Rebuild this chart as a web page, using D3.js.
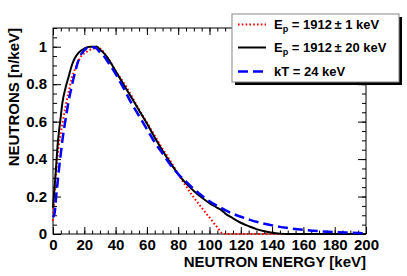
<!DOCTYPE html>
<html>
<head>
<meta charset="utf-8">
<script src="https://cdn.jsdelivr.net/npm/d3@7"></script>
<style>
  body { margin: 0; background: #fff; }
  svg { display: block; font-family: "Liberation Sans", Arial, sans-serif; font-weight: bold; }
</style>
</head>
<body>
<svg width="407" height="276"></svg>
<script>
const svg = d3.select("svg");

const energy = [0, 1, 2, 3, 4, 5, 6, 8, 10, 12, 14, 16, 18, 20, 22, 24, 26, 28, 30, 32, 35,
  40, 45, 50, 55, 60, 65, 70, 75, 80, 85, 90, 95, 100, 105, 108, 110, 115, 120, 125, 130,
  135, 140, 145, 150, 160, 170, 180, 190, 200];

// Ep = 1912 +- 1 keV
const narrow = [0.07, 0.22, 0.33, 0.42, 0.49, 0.54, 0.59, 0.68, 0.76, 0.83, 0.88, 0.92, 0.95,
  0.965, 0.975, 0.985, 0.99, 1.0, 0.99, 0.975, 0.94, 0.87, 0.81, 0.74, 0.665, 0.595, 0.525,
  0.455, 0.39, 0.32, 0.255, 0.195, 0.14, 0.088, 0.035, 0.005, 0, 0, 0, 0, 0,
  0, 0, 0, 0, 0, 0, 0, 0, 0];

// Ep = 1912 +- 20 keV
const wide = [0.14, 0.25, 0.36, 0.48, 0.56, 0.63, 0.7, 0.78, 0.84, 0.9, 0.94, 0.965, 0.98,
  0.99, 0.998, 1.0, 1.0, 1.0, 0.985, 0.97, 0.94, 0.87, 0.8, 0.73, 0.66, 0.59, 0.515,
  0.445, 0.38, 0.32, 0.27, 0.23, 0.195, 0.165, 0.14, 0.125, 0.11, 0.084, 0.06, 0.042, 0.026,
  0.015, 0.007, 0.002, 0, 0, 0, 0, 0, 0];

// kT = 24 keV
const maxw = [0.09, 0.11, 0.2, 0.28, 0.36, 0.43, 0.5, 0.61, 0.71, 0.79, 0.86, 0.92, 0.96,
  0.98, 0.996, 1.0, 0.997, 0.99, 0.97, 0.955, 0.92, 0.855, 0.78, 0.7, 0.63, 0.56, 0.49,
  0.43, 0.37, 0.32, 0.28, 0.24, 0.205, 0.175, 0.15, 0.137, 0.128, 0.108, 0.092, 0.078, 0.065,
  0.055, 0.046, 0.038, 0.032, 0.022, 0.015, 0.01, 0.007, 0.004];

const xMajor = [0, 20, 40, 60, 80, 100, 120, 140, 160, 180, 200];
const yMajor = [0, 0.2, 0.4, 0.6, 0.8, 1];
const yLabels = ["0", "0.2", "0.4", "0.6", "0.8", "1"];

const plot = { left: 53, right: 366, top: 28, bottom: 234 };

const x = d3.scaleLinear().domain([0, 200]).range([plot.left, plot.right]);
const y = d3.scaleLinear().domain([0, 1.1]).range([plot.bottom, plot.top]);

const xMinor = d3.range(0, 201, 5);
const yMinor = d3.range(0, 1.1001, 0.05);

// ticks, pointing inwards on all four sides
function tickAxis(axisFn, scale, values, size, translate) {
  svg.append("g")
    .attr("transform", translate)
    .call(axisFn(scale).tickValues(values).tickSize(size).tickFormat(""))
    .call(g => g.select(".domain").remove())
    .call(g => g.selectAll("line").attr("stroke", "#000"));
}
tickAxis(d3.axisBottom, x, xMinor, -3.5, `translate(0,${plot.bottom})`);
tickAxis(d3.axisBottom, x, xMajor, -7, `translate(0,${plot.bottom})`);
tickAxis(d3.axisTop, x, xMinor, -3.5, `translate(0,${plot.top})`);
tickAxis(d3.axisTop, x, xMajor, -7, `translate(0,${plot.top})`);
tickAxis(d3.axisLeft, y, yMinor, -4, `translate(${plot.left},0)`);
tickAxis(d3.axisLeft, y, yMajor, -8, `translate(${plot.left},0)`);
tickAxis(d3.axisRight, y, yMinor, -4, `translate(${plot.right},0)`);
tickAxis(d3.axisRight, y, yMajor, -8, `translate(${plot.right},0)`);

// tick labels
svg.append("g")
  .attr("transform", `translate(0,${plot.bottom})`)
  .call(d3.axisBottom(x).tickValues(xMajor).tickSize(0).tickPadding(5.2))
  .call(g => g.select(".domain").remove())
  .selectAll("text")
  .attr("fill", "#000")
  .style("font", "bold 15px 'Liberation Sans', Arial, sans-serif");

svg.append("g")
  .attr("transform", `translate(${plot.left},0)`)
  .call(d3.axisLeft(y).tickValues(yMajor).tickSize(0).tickPadding(6)
    .tickFormat((d, i) => yLabels[i]))
  .call(g => g.select(".domain").remove())
  .selectAll("text")
  .attr("fill", "#000")
  .style("font", "bold 15px 'Liberation Sans', Arial, sans-serif");

// frame
svg.append("rect")
  .attr("x", plot.left).attr("y", plot.top)
  .attr("width", plot.right - plot.left).attr("height", plot.bottom - plot.top)
  .attr("fill", "none").attr("stroke", "#000").attr("stroke-width", 1);

// curves
const line = vals => d3.line()
  .x((d, i) => x(energy[i]))
  .y(d => y(d))
  .curve(d3.curveMonotoneX)(vals);

svg.append("path").attr("d", line(narrow))
  .attr("fill", "none").attr("stroke", "#ff0000").attr("stroke-width", 2)
  .attr("stroke-dasharray", "1.6,2.2");
svg.append("path").attr("d", line(wide))
  .attr("fill", "none").attr("stroke", "#000").attr("stroke-width", 2);
svg.append("path").attr("d", line(maxw))
  .attr("fill", "none").attr("stroke", "#0000ff").attr("stroke-width", 2.5)
  .attr("stroke-dasharray", "10,5");

// axis titles
svg.append("text")
  .attr("x", plot.right).attr("y", 267)
  .attr("text-anchor", "end")
  .style("font-size", "15px")
  .text("NEUTRON ENERGY [keV]");

svg.append("text")
  .attr("transform", `translate(19,${plot.top}) rotate(-90)`)
  .attr("text-anchor", "end")
  .style("font-size", "15px")
  .text("NEUTRONS [n/keV]");

// legend
const leg = { x: 232, y: 14, w: 167, h: 68 };
svg.append("rect")
  .attr("x", leg.x + 3).attr("y", leg.y + 3).attr("width", leg.w).attr("height", leg.h)
  .attr("fill", "#000");
svg.append("rect")
  .attr("x", leg.x).attr("y", leg.y).attr("width", leg.w).attr("height", leg.h)
  .attr("fill", "#fff").attr("stroke", "#888").attr("stroke-width", 1);

const legendItems = [
  { color: "#ff0000", dash: "1.6,2.2", width: 2, yPos: 24.5, main: "E", sub: "p", rest: " = 1912\u2009\u00b1 1 keV" },
  { color: "#000", dash: null, width: 2, yPos: 47.5, main: "E", sub: "p", rest: " = 1912\u2009\u00b1 20 keV" },
  { color: "#0000ff", dash: "10,5", width: 2.5, yPos: 71.5, main: "kT = 24 keV", sub: null, rest: "" }
];

legendItems.forEach(it => {
  svg.append("line")
    .attr("x1", 238).attr("x2", 266).attr("y1", it.yPos).attr("y2", it.yPos)
    .attr("stroke", it.color).attr("stroke-width", it.width)
    .attr("stroke-dasharray", it.dash);
  const t = svg.append("text")
    .attr("x", 274).attr("y", it.yPos + 4.8)
    .style("font-size", "13px");
  t.append("tspan").text(it.main);
  if (it.sub) {
    t.append("tspan").attr("dy", 3).style("font-size", "9px").text(it.sub);
    t.append("tspan").attr("dy", -3).text(it.rest);
  }
});
</script>
</body>
</html>
